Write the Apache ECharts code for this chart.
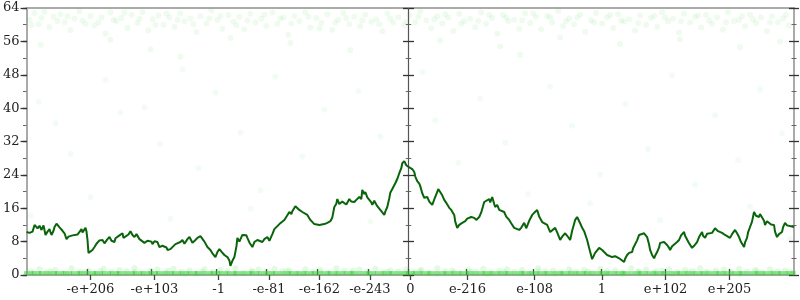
<!DOCTYPE html>
<html><head><meta charset="utf-8">
<script src="https://cdn.jsdelivr.net/npm/echarts@6/dist/echarts.min.js"></script>
<style>html,body{margin:0;padding:0;background:#fff}#c{width:800px;height:300px}</style>
</head><body><div id="c"></div>
<script>
// x axis: position in bit-pattern space (center 0), labels at decimal magnitudes
const tickValues = [-320, -256, -191.8, -141.4, -90.9, -40.5, 0, 57.3, 124.5, 191.8, 255.4, 319.5];
const tickLabels = ['-e+206', '-e+103', '-1', '-e-81', '-e-162', '-e-243', '0', 'e-216', 'e-108', '1', 'e+102', 'e+205'];
const yTicksMax = 64;
const yTickStep = 8;

const walk = [[-384,10.3],[-381,10.1],[-378,10.4],[-376,12],[-375,12.2],[-373,11.2],[-371,11.8],[-369,10.8],[-367,11.9],[-366,11.5],[-365,9.6],[-363,10.4],[-361,11],[-360,10.2],[-359,9.6],[-357,10.6],[-356,11.5],[-354,12.3],[-353,12.2],[-351,11.4],[-350,11.3],[-348,10.6],[-346,10],[-344,8.6],[-342,9.2],[-341,9.6],[-338,9.5],[-336,9.8],[-333,9.7],[-331,10],[-329,11],[-328,10.2],[-327,10],[-325,11.3],[-324,10.4],[-323,8.4],[-322,5.3],[-320,5.5],[-318,6.0],[-316,6.7],[-314,7.5],[-313,7.9],[-311,8.3],[-308,8.4],[-306,7.6],[-305,7.9],[-303,8.6],[-301,9.1],[-299,8.2],[-296,7.9],[-295,8.8],[-293,8.4],[-291,9.5],[-288,10],[-287,8.9],[-285,9.3],[-282,9.7],[-280,10.5],[-278,9.6],[-276,9.1],[-274,9.8],[-271,8.6],[-269,8.9],[-266,7.7],[-263,8.2],[-261,8.6],[-259,8.0],[-258,7.4],[-256,8.1],[-255,7.7],[-253,7.9],[-251,6.7],[-248,7.0],[-246,7.2],[-244,6.6],[-243,6],[-240,6.2],[-238,6.5],[-235,7.4],[-233,7.2],[-230,7.9],[-228,8.4],[-226,7.5],[-225,7.9],[-223,8.6],[-221,9.1],[-219,8.2],[-218,7.7],[-215,8.4],[-213,8.9],[-211,8.6],[-210,9.3],[-208,9.1],
[-206,8.0],[-203,6.7],[-201,6.4],[-200,6],[-198,5.2],[-195,4.3],[-193,5.5],[-191,6.2],[-189,5.6],[-186,4.8],[-184,5.2],[-183,4.3],[-181,3.5],[-180,2.2],[-178,3.4],[-176,4.3],[-174,6.8],[-173,8.9],[-171,8.0],[-170,8.4],[-168,9.6],[-166,9.3],[-164,9.5],[-163,8.9],[-161,7.8],[-158,6.7],[-156,7.9],[-153,8.4],[-151,8.1],[-148,7.9],[-146,8.6],[-143,9.1],[-141,8.2],[-140,8.6],[-138,9.8],[-136,11],[-134,11.3],[-131,12.2],[-129,12.0],[-126,13.2],[-124,13.6],[-121,15.1],[-119,14.6],[-118,15.3],[-116,15.5],[-115,16.5],[-113,16.2],[-111,15.6],[-110,15.9],[-108,15.1],[-106,15.3],[-103,14.4],[-101,14.0],[-100,13.2],[-98,12.8],[-96,12.2],[-94,12.5],[-91,12],[-89,12.4],[-86,12.2],[-84,11.9],[-83,12.5],[-81,12.2],[-80,12.9],[-78,13.8],[-76,16.3],[-74,17.1],[-73,18.2],[-71,17.0],[-70,16.8],[-68,17.6],[-66,17.3],[-64,16.9],[-61,18.2],[-59,17.6],[-56,17.5],[-54,18.0],[-51,18.7],[-49,18.2],[-48,20.4],[-46,19.4],[-45,19.9],[-43,18.6],[-41,18.7],[-39,17.4],[-38,16.8],[-36,17.8],[-35,17.3],[-33,16.5],[-31,16.1],[-29,15.3],[-28,14.9],[-26,14.4],[-25,15.2],[-23,16.3],[-21,18.4],[-20,19.7],[-18,20.6],[-15,22],[-13,23.0],[-11,24.4],[-9,25.6],[-8,26.8],[-6,27.3],[-4,26.3],[-3,26.4],[-1,25.8],[0,25.9],[2,25.4],[4,24.7],[5,23.6],[7,22.5],[9,21.9],[10,21.3],[12,19.6],[14,18.5],[15,18.9],[17,18.7],[19,17.6],[22,16.8],[24,18.1],[27,19.9],[28,20.6],[30,20.4],[32,19.1],[34,18],[36,17.3],[39,16.1],[41,15.6],[44,14.4],[45,12.8],[47,11.3],[49,12.0],[52,12.5],[54,12.2],[55,12.9],[57,13.5],[59,13.2],[61,13.9],[64,13.7],[66,13.2],[69,13.9],[71,15.0],[74,17.5],[76,17.1],[79,18.2],[80,17.4],[82,18.7],[84,17.0],[85,16.3],[87,16.8],[89,15.6],[91,15.9],[94,15.1],[96,14.0],[99,13.2],[101,12.4],[104,11.3],[106,11.6],[109,10.8],[111,11.3],[114,12.5],[116,11.2],[117,11.8],[119,13.0],[122,14.4],[124,14.9],[127,15.6],[129,14.0],[132,12.7],[134,12.9],[137,12],[139,11.6],[140,10.3],[142,10.6],[145,11.3],[147,10.2],[150,8.4],[152,9.2],[155,10],[157,9.4],[160,8.4],[162,10.6],[165,13.2],[167,13.9],[169,13.7],[170,12.4],[172,11.3],[174,10.5],[177,8.4],[179,6.5],[182,3.8],[183,4.2],[185,5.3],[187,5.9],[189,6.5],[190,6.8],[192,6],[194,5.5],[197,4.8],[199,4.6],[202,4.3],[205,4.5],[209,4],[211,4.2],[214,3.1],[215,3.9],[217,4.8],[219,5.3],[222,5.5],[223,6.4],[225,6.7],[227,8.3],[229,9.6],[231,9.8],[234,10],[236,9.7],[237,9.1],[239,7.3],[240,6],[242,4.8],[244,4],[245,4.6],[247,5.5],[249,6.6],[250,7.7],[252,7.3],[254,7.9],[256,7.6],[257,7.2],[259,6.5],[260,6],[262,6.9],[264,6.7],[267,7.9],[269,8.4],[271,9.5],[274,10.3],[275,9.4],[277,9.1],[279,7.6],[282,6.5],[284,7.0],[287,7.9],[289,9.1],[292,10.3],[293,9.4],[295,8.9],[297,9.9],[299,9.6],[302,10.1],[304,10.3],[305,11.2],[307,11.5],[308,10.5],[310,10.8],[312,10.1],[315,9.6],[317,9.2],[320,8.9],[322,9.8],[325,10.8],[327,10.0],[329,9.1],[331,7.9],[334,6.7],[335,7.8],[337,8.9],[338,10.2],[340,11.5],[342,12.8],[344,15.1],[346,14.2],[349,13.9],[350,14.6],[352,14.4],[354,13.0],[355,12],[357,12.9],[359,12.7],[361,12.1],[364,12],[365,10.4],[367,9.1],[369,9.8],[372,10.3],[373,11.4],[375,12.5],[377,11.9],[379,11.5],[384,11.5]];

const topBand = [[-381,61.2],[-376,62.8],[-372,60.1],[-366,63.1],[-361,59.4],[-357,61.9],[-350,62.5],[-346,60.6],[-340,58.7],[-336,61.4],[-331,63.3],[-325,60.2],[-320,62.1],[-316,59.8],[-309,61.7],[-305,57.9],[-300,62.9],[-294,60.9],[-289,61.6],[-283,59.2],[-279,62.4],[-273,60.4],[-268,63.0],[-262,58.6],[-258,61.3],[-252,62.2],[-247,60.0],[-241,61.8],[-236,59.5],[-230,62.7],[-226,60.8],[-220,61.5],[-214,58.2],[-210,62.0],[-204,60.3],[-199,63.4],[-193,61.1],[-188,59.0],[-182,62.3],[-177,60.7],[-171,61.9],[-166,58.9],[-160,62.6],[-155,60.5],[-149,61.4],[-144,59.7],[-138,62.9],[-133,60.2],[-127,61.7],[-122,57.6],[-116,62.1],[-111,60.9],[-105,63.0],[-100,59.3],[-94,61.6],[-89,60.4],[-83,62.5],[-78,58.8],[-72,61.2],[-67,62.8],[-61,60.1],[-56,61.9],[-50,59.6],[-45,62.4],[-39,60.7],[-34,61.3],[-28,58.4],[-23,62.7],[-17,60.5],[-12,61.8],[-6,59.9],[-1,62.2],[5,60.6],[10,63.2],[16,61.0],[21,59.1],[27,62.0],[32,60.3],[38,61.7],[43,58.5],[49,62.6],[54,60.8],[60,61.4],[65,59.4],[71,62.9],[76,60.2],[82,61.6],[87,57.8],[93,62.3],[98,60.9],[104,61.2],[109,59.0],[115,62.7],[120,60.4],[126,61.9],[131,58.9],[137,62.1],[142,60.6],[148,63.3],[153,59.7],[159,61.5],[164,60.1],[170,62.4],[175,58.3],[181,61.0],[186,62.8],[192,60.3],[197,61.8],[203,59.2],[208,62.5],[214,60.7],[219,61.3],[225,58.6],[230,62.2],[236,60.0],[241,61.6],[247,59.5],[252,63.0],[258,60.8],[263,61.4],[269,58.1],[274,62.6],[280,60.5],[285,61.9],[291,59.3],[296,62.3],[302,60.2],[307,61.7],[313,58.8],[318,62.9],[324,60.9],[329,61.1],[335,59.6],[340,62.4],[346,60.4],[351,61.8],[357,58.4],[362,62.0],[368,60.6],[373,61.5],[379,59.8],
[-379,59.9],[-369,61.6],[-353,60.9],[-343,62.0],[-328,61.0],[-312,60.5],[-297,61.1],[-286,62.9],[-271,61.4],[-255,59.9],[-244,62.6],[-233,61.2],[-217,60.1],[-201,61.5],[-190,62.1],[-174,59.9],[-163,61.0],[-146,62.4],[-130,61.5],[-119,60.3],[-102,61.9],[-91,59.1],[-75,60.5],[-64,61.6],[-48,61.0],[-31,60.1],[-20,61.4],[-4,60.7],[8,61.9],[24,61.3],[35,62.5],[51,60.2],[68,60.9],[79,62.3],[96,61.7],[112,61.0],[123,62.7],[140,61.8],[156,60.9],[167,61.7],[184,60.6],[200,62.3],[211,61.0],[228,60.4],[244,62.1],[255,61.7],[271,60.8],[288,62.2],[299,61.0],[316,60.6],[332,62.0],[343,61.3],[360,60.5],[376,62.3],
[-370,55.2],[-300,56.4],[-260,54.1],[-180,56.8],[-120,55.6],[-60,53.9],[30,56.2],[90,54.8],[150,56.9],[210,55.4],[270,56.5],[330,54.6],[370,55.9],[-230,52.3],[110,52.8]];

const sparse = [[-372,41.5],[-355,36.4],[-340,29.0],[-305,46.8],[-290,38.9],[-266,40.2],[-250,31.4],[-228,49.3],[-212,25.6],[-195,43.7],[-170,34.1],[-150,20.3],[-135,47.5],[-108,28.4],[-86,39.6],[-70,17.9],[-52,44.1],[-30,33.2],[-15,22.8],[12,48.6],[25,37.1],[48,26.9],[70,42.3],[95,31.7],[118,19.4],[140,45.2],[162,35.8],[190,24.1],[215,41.0],[238,30.2],[262,47.9],[285,21.7],[305,38.3],[328,27.5],[350,44.6],[372,33.9],[-380,14.2],[-320,18.7],[-240,13.5],[-160,15.9],[-40,12.8],[60,14.6],[180,17.2],[250,13.1],[340,16.4],[380,8.6]];

const lowBand = [[-380,0.9],[-371,1.4],[-364,0.6],[-355,1.2],[-347,0.5],[-339,1.6],[-331,0.8],[-322,1.1],[-315,0.4],[-307,1.5],[-299,0.7],[-291,1.2],[-284,0.9],[-276,1.7],[-268,0.5],[-260,1.0],[-253,1.3],[-245,0.6],[-237,1.5],[-229,0.8],[-221,1.1],[-214,0.4],[-206,1.4],[-198,0.7],[-190,1.2],[-183,0.9],[-175,1.6],[-167,0.5],[-159,1.0],[-152,1.3],[-144,0.7],[-136,1.5],[-128,0.9],[-121,1.1],[-113,0.4],[-105,1.4],[-97,0.8],[-90,1.2],[-82,0.6],[-74,1.6],[-66,1.0],[-59,0.5],[-51,1.3],[-43,0.8],[-35,1.5],[-27,0.6],[-20,1.1],[-12,0.9],[-4,1.4],[4,0.7],[11,1.2],[19,0.5],[27,1.6],[35,0.9],[42,1.1],[50,0.4],[58,1.3],[66,0.8],[73,1.5],[81,0.6],[89,1.0],[97,1.4],[104,0.7],[112,1.2],[120,0.5],[128,1.6],[135,0.9],[143,1.1],[151,0.6],[159,1.4],[166,0.8],[174,1.2],[182,0.4],[190,1.5],[197,0.9],[205,1.1],[213,0.6],[221,1.6],[228,0.8],[236,1.3],[244,0.5],[252,1.0],[259,1.4],[267,0.7],[275,1.2],[283,0.9],[290,1.6],[298,0.5],[306,1.1],[314,1.3],[321,0.7],[329,1.5],[337,0.8],[345,1.2],[352,0.6],[360,1.4],[368,0.9],[375,1.1],[383,0.5],
[-377,0.4],[-360,0.9],[-343,0.3],[-326,0.6],[-310,0.9],[-293,0.3],[-276,0.7],[-259,0.4],[-242,1.0],[-225,0.3],[-208,0.8],[-192,0.5],[-175,0.3],[-158,0.7],[-141,0.4],[-124,0.9],[-107,0.3],[-90,0.6],[-73,0.4],[-57,1.0],[-40,0.3],[-23,0.7],[-6,0.4],[10,0.9],[27,0.3],[44,0.6],[61,0.8],[77,0.3],[94,0.7],[111,0.4],[128,0.9],[145,0.3],[161,0.6],[178,0.8],[195,0.4],[212,0.3],[229,0.7],[246,0.9],[262,0.3],[279,0.6],[296,0.8],[313,0.4],[330,0.3],[347,0.9],[363,0.5],[380,0.7]];

const zeroRowX = [-382,-374,-367,-358,-351,-343,-335,-328,-319,-312,-304,-296,-289,-280,-273,-265,-257,-250,-241,-234,-226,-218,-211,-202,-195,-187,-179,-172,-163,-156,-148,-140,-133,-124,-117,-109,-101,-94,-85,-78,-70,-62,-55,-46,-39,-31,-23,-16,-7,0,7,15,22,31,38,46,54,61,70,77,85,93,100,109,116,124,132,139,148,155,163,171,178,187,194,202,210,217,226,233,241,249,256,265,272,280,288,295,304,311,319,327,334,343,350,358,366,373,381];
const zeroRowY = 0.45;

const FONT = 'DejaVu Serif';
const G = {left: 23, right: 6, top: 8, bottom: 25};
const grids = [0, 1, 2, 3].map(() => Object.assign({}, G));

function xAx(gridIndex, extra) {
  return Object.assign({type: 'value', gridIndex, min: -384, max: 384, splitLine: {show: false},
    axisLine: {show: false, onZero: false}, axisTick: {show: false}, axisLabel: {show: false}}, extra);
}
function yAx(gridIndex, extra) {
  return Object.assign({type: 'value', gridIndex, min: 0, max: yTicksMax, interval: yTickStep, splitLine: {show: false},
    axisLine: {show: false, onZero: false}, axisTick: {show: false}, axisLabel: {show: false}}, extra);
}
const GRAY = {color: '#aaa', width: 2};
const GREEN = 'rgb(50,205,50)';

const option = {
  animation: false,
  grid: grids,
  xAxis: [
    xAx(0, {position: 'bottom', axisLine: {show: true, onZero: false, lineStyle: GRAY},
      axisTick: {show: true, customValues: tickValues, length: 5, lineStyle: {color: '#444', width: 1.3}},
      axisLabel: {show: true, customValues: tickValues, margin: 8, fontFamily: FONT, fontSize: 13, color: '#222',
        formatter: v => { const i = tickValues.indexOf(v); return i >= 0 ? tickLabels[i] : ''; }}}),
    xAx(0, {position: 'top', axisLine: {show: true, onZero: false, lineStyle: GRAY}}),
    xAx(1, {position: 'bottom', axisTick: {show: true, inside: true, customValues: tickValues, length: 6, lineStyle: {color: '#444', width: 1.3}}}),
    xAx(2, {}),
    xAx(3, {})
  ],
  yAxis: [
    yAx(0, {position: 'left', axisLine: {show: true, onZero: false, lineStyle: GRAY},
      axisTick: {show: true, length: 6, lineStyle: {color: '#333', width: 1.3}},
      minorTick: {show: true, splitNumber: 2, length: 3.5, lineStyle: {color: '#666', width: 1}},
      axisLabel: {show: true, margin: 7, fontFamily: FONT, fontSize: 13, color: '#222'}}),
    yAx(0, {position: 'right', axisLine: {show: true, onZero: false, lineStyle: GRAY},
      axisTick: {show: true, length: 5, lineStyle: {color: '#333', width: 1.3}},
      minorTick: {show: true, splitNumber: 2, length: 2.5, lineStyle: {color: '#666', width: 1}}}),
    yAx(1, {position: 'left', axisTick: {show: true, inside: true, length: 4, lineStyle: {color: '#333', width: 1.3}},
      minorTick: {show: true, splitNumber: 2, length: 2.5, lineStyle: {color: '#666', width: 1}}}),
    yAx(1, {position: 'right', axisTick: {show: true, inside: true, length: 5, lineStyle: {color: '#333', width: 1.3}},
      minorTick: {show: true, splitNumber: 2, length: 2.5, lineStyle: {color: '#666', width: 1}}}),
    yAx(2, {position: 'left', axisLine: {show: true, onZero: true, lineStyle: {color: '#555', width: 1.2}},
      axisTick: {show: true, length: 5.5, lineStyle: {color: '#333', width: 1.3}},
      minorTick: {show: true, splitNumber: 2, length: 2.7, lineStyle: {color: '#666', width: 1}}}),
    yAx(3, {position: 'right', axisLine: {show: false, onZero: true},
      axisTick: {show: true, length: 5.5, lineStyle: {color: '#333', width: 1.3}},
      minorTick: {show: true, splitNumber: 2, length: 2.7, lineStyle: {color: '#666', width: 1}}})
  ],
  series: [
    {type: 'scatter', xAxisIndex: 0, yAxisIndex: 0, data: topBand, symbolSize: 6,
      itemStyle: {color: GREEN, opacity: 0.08}, silent: true},
    {type: 'scatter', xAxisIndex: 0, yAxisIndex: 0, data: sparse, symbolSize: 6,
      itemStyle: {color: GREEN, opacity: 0.06}, silent: true},
    {type: 'scatter', xAxisIndex: 0, yAxisIndex: 0, data: lowBand, symbolSize: 6,
      itemStyle: {color: GREEN, opacity: 0.13}, silent: true},
    {type: 'scatter', xAxisIndex: 0, yAxisIndex: 0, data: zeroRowX.map(x => [x, zeroRowY]), symbol: 'rect', symbolSize: [9, 4],
      itemStyle: {color: GREEN, opacity: 0.55}, silent: true},
    {type: 'line', xAxisIndex: 0, yAxisIndex: 0, data: walk, showSymbol: false, symbol: 'none', z: 5,
      lineStyle: {color: '#0a640a', width: 2}}
  ]
};
echarts.init(document.getElementById('c')).setOption(option);
</script></body></html>
